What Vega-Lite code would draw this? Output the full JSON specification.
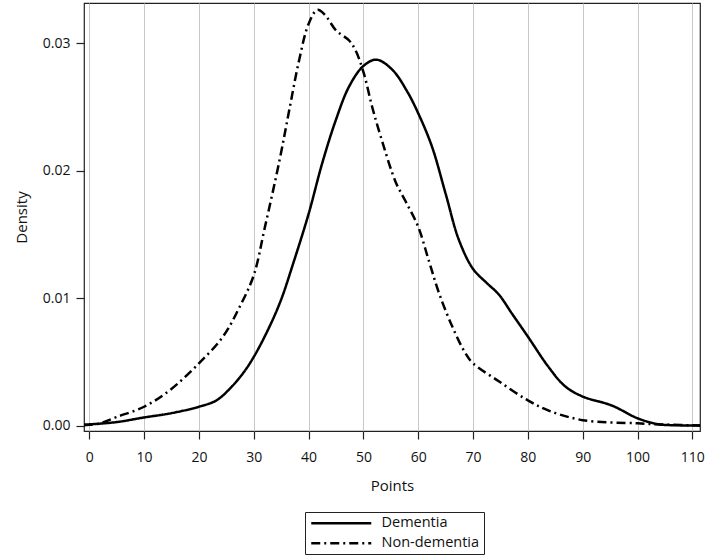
{
  "$schema": "https://vega.github.io/schema/vega-lite/v6.json",
  "autosize": {"type": "none"},
  "width": 616,
  "height": 428,
  "padding": {"left": 84, "top": 3, "right": 9, "bottom": 129},
  "background": "white",
  "config": {
    "font": "Open Sans",
    "view": {"stroke": "#222222", "strokeWidth": 1.2},
    "axis": {"labelFont": "Open Sans", "titleFont": "Open Sans", "labelFontSize": 14, "titleFontSize": 15, "titleFontWeight": "normal", "labelColor": "#111", "titleColor": "#111", "domain": false, "tickColor": "#222", "tickSize": 8, "tickWidth": 1.2}
  },
  "data": {"values": [
    {"points": -1, "density": 0.0001, "group": "Dementia"},
    {"points": 0, "density": 0.00012, "group": "Dementia"},
    {"points": 5, "density": 0.0003, "group": "Dementia"},
    {"points": 10, "density": 0.00066, "group": "Dementia"},
    {"points": 15, "density": 0.001, "group": "Dementia"},
    {"points": 20, "density": 0.0015, "group": "Dementia"},
    {"points": 23.2, "density": 0.002, "group": "Dementia"},
    {"points": 25.6, "density": 0.0029, "group": "Dementia"},
    {"points": 28, "density": 0.0041, "group": "Dementia"},
    {"points": 30, "density": 0.0054, "group": "Dementia"},
    {"points": 32.9, "density": 0.0078, "group": "Dementia"},
    {"points": 35, "density": 0.0099, "group": "Dementia"},
    {"points": 37.1, "density": 0.0126, "group": "Dementia"},
    {"points": 40, "density": 0.0166, "group": "Dementia"},
    {"points": 42.5, "density": 0.0206, "group": "Dementia"},
    {"points": 45, "density": 0.024, "group": "Dementia"},
    {"points": 47.4, "density": 0.0266, "group": "Dementia"},
    {"points": 50, "density": 0.0282, "group": "Dementia"},
    {"points": 52.4, "density": 0.0287, "group": "Dementia"},
    {"points": 55.3, "density": 0.0279, "group": "Dementia"},
    {"points": 58, "density": 0.0262, "group": "Dementia"},
    {"points": 60, "density": 0.0245, "group": "Dementia"},
    {"points": 62.5, "density": 0.0219, "group": "Dementia"},
    {"points": 65, "density": 0.0182, "group": "Dementia"},
    {"points": 67.4, "density": 0.0146, "group": "Dementia"},
    {"points": 70, "density": 0.0123, "group": "Dementia"},
    {"points": 72.5, "density": 0.0112, "group": "Dementia"},
    {"points": 74.7, "density": 0.0103, "group": "Dementia"},
    {"points": 77.1, "density": 0.0088, "group": "Dementia"},
    {"points": 80, "density": 0.007, "group": "Dementia"},
    {"points": 83.8, "density": 0.0046, "group": "Dementia"},
    {"points": 86.8, "density": 0.0031, "group": "Dementia"},
    {"points": 90, "density": 0.0023, "group": "Dementia"},
    {"points": 95.3, "density": 0.0016, "group": "Dementia"},
    {"points": 100, "density": 0.0006, "group": "Dementia"},
    {"points": 103.8, "density": 0.00013, "group": "Dementia"},
    {"points": 107, "density": 0.00005, "group": "Dementia"},
    {"points": 111.5, "density": 0.00003, "group": "Dementia"},
    {"points": -1, "density": 0.00005, "group": "Non-dementia"},
    {"points": 0, "density": 0.00008, "group": "Non-dementia"},
    {"points": 2, "density": 0.0002, "group": "Non-dementia"},
    {"points": 5, "density": 0.0007, "group": "Non-dementia"},
    {"points": 10, "density": 0.0015, "group": "Non-dementia"},
    {"points": 14.7, "density": 0.0028, "group": "Non-dementia"},
    {"points": 20, "density": 0.0049, "group": "Non-dementia"},
    {"points": 24.4, "density": 0.007, "group": "Non-dementia"},
    {"points": 27.4, "density": 0.0093, "group": "Non-dementia"},
    {"points": 30, "density": 0.0118, "group": "Non-dementia"},
    {"points": 32, "density": 0.0155, "group": "Non-dementia"},
    {"points": 34.7, "density": 0.0208, "group": "Non-dementia"},
    {"points": 36.5, "density": 0.0248, "group": "Non-dementia"},
    {"points": 38.3, "density": 0.0287, "group": "Non-dementia"},
    {"points": 40, "density": 0.0315, "group": "Non-dementia"},
    {"points": 41.6, "density": 0.0326, "group": "Non-dementia"},
    {"points": 43, "density": 0.0322, "group": "Non-dementia"},
    {"points": 45, "density": 0.031, "group": "Non-dementia"},
    {"points": 47.4, "density": 0.0302, "group": "Non-dementia"},
    {"points": 48.6, "density": 0.0294, "group": "Non-dementia"},
    {"points": 50.1, "density": 0.0276, "group": "Non-dementia"},
    {"points": 51.6, "density": 0.025, "group": "Non-dementia"},
    {"points": 53.5, "density": 0.0222, "group": "Non-dementia"},
    {"points": 55.9, "density": 0.0191, "group": "Non-dementia"},
    {"points": 57.7, "density": 0.0176, "group": "Non-dementia"},
    {"points": 60, "density": 0.0156, "group": "Non-dementia"},
    {"points": 61.9, "density": 0.013, "group": "Non-dementia"},
    {"points": 63.8, "density": 0.0104, "group": "Non-dementia"},
    {"points": 66.2, "density": 0.0078, "group": "Non-dementia"},
    {"points": 68.6, "density": 0.0057, "group": "Non-dementia"},
    {"points": 70, "density": 0.0049, "group": "Non-dementia"},
    {"points": 74.7, "density": 0.0035, "group": "Non-dementia"},
    {"points": 80, "density": 0.002, "group": "Non-dementia"},
    {"points": 83.8, "density": 0.0012, "group": "Non-dementia"},
    {"points": 90, "density": 0.00045, "group": "Non-dementia"},
    {"points": 100, "density": 0.0002, "group": "Non-dementia"},
    {"points": 105, "density": 0.0001, "group": "Non-dementia"},
    {"points": 111.5, "density": 0.00004, "group": "Non-dementia"}
  ]},
  "mark": {"type": "line", "interpolate": "catmull-rom", "color": "black", "strokeWidth": 2.5, "clip": true},
  "encoding": {
    "x": {"field": "points", "type": "quantitative", "title": "Points",
      "scale": {"domain": [-0.96, 111.4], "nice": false, "zero": false},
      "axis": {"values": [0,10,20,30,40,50,60,70,80,90,100,110], "grid": true, "gridColor": "#c8c8c8", "gridWidth": 1, "labelPadding": 11, "titlePadding": 14}},
    "y": {"field": "density", "type": "quantitative", "title": "Density",
      "scale": {"domain": [-0.0004, 0.03314], "nice": false, "zero": false},
      "axis": {"values": [0, 0.01, 0.02, 0.03], "format": ".2f", "grid": false, "labelPadding": 6, "titlePadding": 13}},
    "strokeDash": {"field": "group", "type": "nominal",
      "scale": {"domain": ["Dementia", "Non-dementia"], "range": [[1, 0], [9, 4, 2, 4]]},
      "legend": {"title": null, "orient": "none", "legendX": 221, "legendY": 509, "direction": "vertical",
        "symbolType": "M-1,0H11", "symbolSize": 100, "symbolStrokeWidth": 2.5, "symbolStrokeColor": "black",
        "labelFont": "Open Sans", "labelFontSize": 14.5, "labelColor": "#111", "labelOffset": 58, "rowPadding": 5,
        "strokeColor": "#222", "padding": 4, "fillColor": "white"}}
  }
}
